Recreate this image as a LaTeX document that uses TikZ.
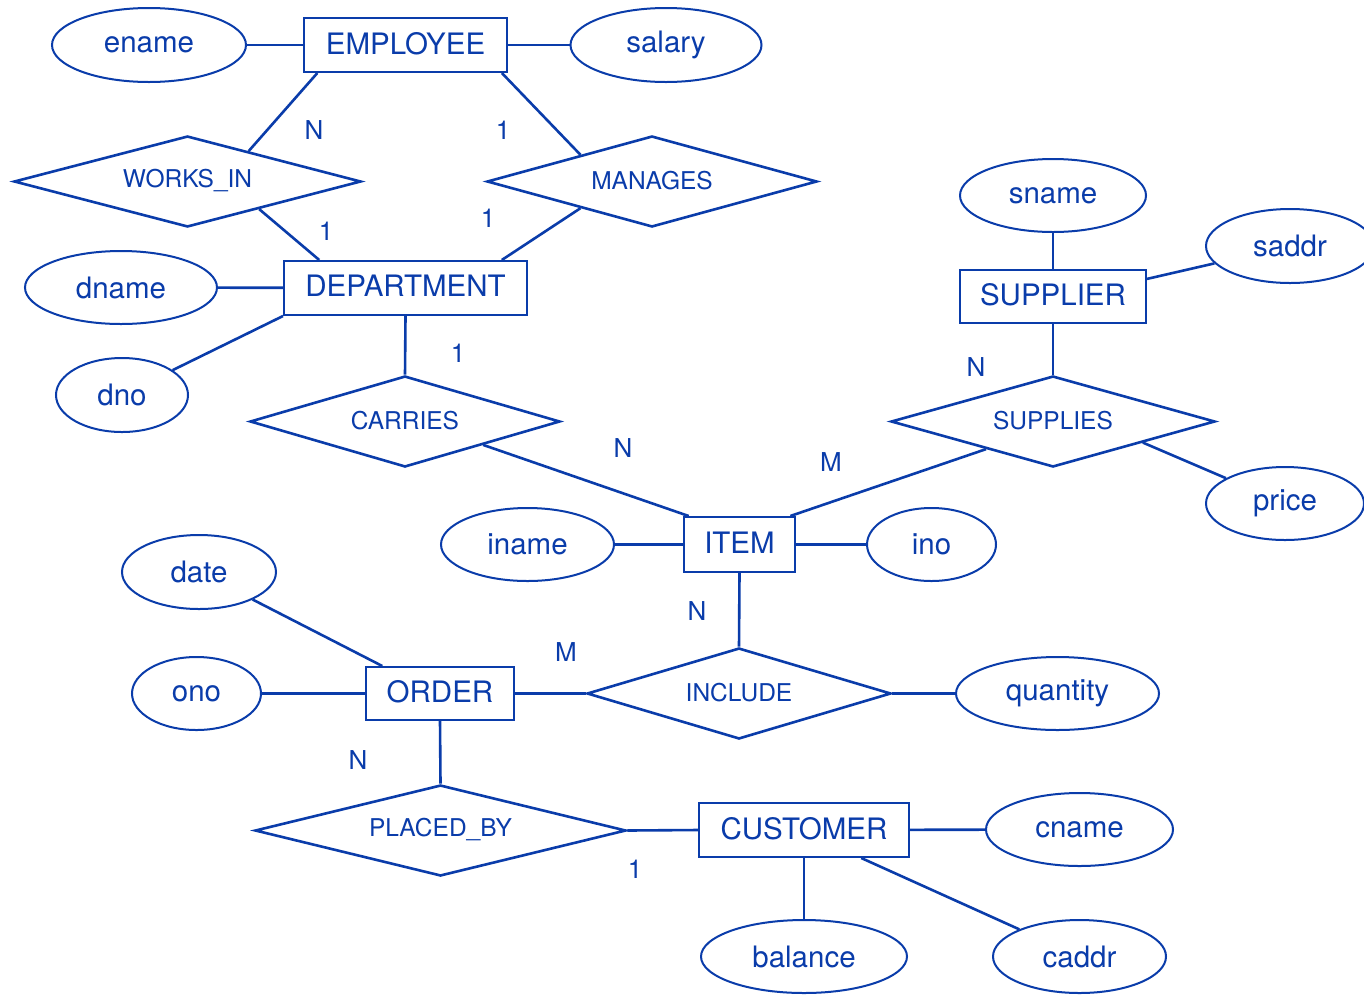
\documentclass[tikz,border=0pt]{standalone}
\usepackage{fontspec}
\setmainfont{TeX Gyre Heros}
\usetikzlibrary{shapes.geometric,calc}
\definecolor{erblue}{RGB}{10,60,170}
\begin{document}
\begin{tikzpicture}[x=1pt,y=-1pt,
  every node/.style={text=erblue},
  ent/.style={draw=erblue,line width=2pt,rectangle,inner sep=0pt,text depth=4pt,font=\fontsize{29.5}{29.5}\selectfont},
  attr/.style={draw=erblue,line width=2pt,ellipse,inner sep=0pt,font=\fontsize{29.5}{29.5}\selectfont},
  rel/.style={draw=erblue,line width=2.6pt,diamond,inner sep=0pt},
  rlab/.style={font=\fontsize{24.5}{24.5}\selectfont,text=erblue,yshift=1pt},
  card/.style={font=\fontsize{26}{26}\selectfont},
  conn/.style={draw=erblue,line width=2.6pt},
]
\useasboundingbox (0,0) rectangle (1364,994);
\fill[white] (0,0) rectangle (1364,994);

% entities
\node[ent,minimum width=203,minimum height=54] (emp) at (405.5,45) {EMPLOYEE};
\node[ent,minimum width=243,minimum height=54] (dep) at (405.5,288) {DEPARTMENT};
\node[ent,minimum width=186,minimum height=53] (sup) at (1053,296.5) {SUPPLIER};
\node[ent,minimum width=111,minimum height=55] (item) at (739.5,544.5) {ITEM};
\node[ent,minimum width=148,minimum height=53] (ord) at (440,693.5) {ORDER};
\node[ent,minimum width=210,minimum height=54] (cus) at (804,830) {CUSTOMER};

% attributes
\node[attr,minimum width=194,minimum height=74] (ename) at (149,45) {ename};
\node[attr,minimum width=191,minimum height=74] (salary) at (666,45) {salary};
\node[attr,minimum width=192,minimum height=73] (dname) at (121,287.5) {dname};
\node[attr,minimum width=132,minimum height=74] (dno) at (122,395) {dno};
\node[attr,minimum width=186,minimum height=73] (sname) at (1053,195.5) {sname};
\node[attr,minimum width=168,minimum height=74] (saddr) at (1290,246) {saddr};
\node[attr,minimum width=158,minimum height=73] (price) at (1285,503.5) {price};
\node[attr,minimum width=173,minimum height=73] (iname) at (527.5,544.5) {iname};
\node[attr,minimum width=129,minimum height=73] (ino) at (931.5,544.5) {ino};
\node[attr,minimum width=154,minimum height=74] (date) at (199,572) {date};
\node[attr,minimum width=129,minimum height=73] (ono) at (196.5,693.5) {ono};
\node[attr,minimum width=203,minimum height=73] (qty) at (1057.5,693.5) {quantity};
\node[attr,minimum width=187,minimum height=73] (cname) at (1079.5,829.5) {cname};
\node[attr,minimum width=206,minimum height=73] (bal) at (804,956.5) {balance};
\node[attr,minimum width=173,minimum height=73] (caddr) at (1079.5,956.5) {caddr};

% relationships
\node[rel,minimum width=347,minimum height=91,label={[rlab]center:WORKS\_IN}] (wi) at (187.5,181.5) {};
\node[rel,minimum width=330,minimum height=91,label={[rlab]center:MANAGES}] (man) at (652,181.5) {};
\node[rel,minimum width=310,minimum height=91,label={[rlab]center:CARRIES}] (car) at (405,421.5) {};
\node[rel,minimum width=324,minimum height=91,label={[rlab]center:SUPPLIES}] (sups) at (1053,421.5) {};
\node[rel,minimum width=304,minimum height=91,label={[rlab]center:INCLUDE}] (inc) at (739,693.5) {};
\node[rel,minimum width=371,minimum height=91,label={[rlab]center:PLACED\_BY}] (pb) at (440.5,830.5) {};

% connectors
\draw[conn] (ename) -- (emp);
\draw[conn] (emp) -- (salary);
\draw[conn] ($(emp.south west)!0.07!(emp.south east)$) -- ($(wi.north)!0.35!(wi.east)$);
\draw[conn] ($(emp.south west)!0.97!(emp.south east)$) -- ($(man.north)!0.43!(man.west)$);
\draw[conn] ($(wi.south)!0.41!(wi.east)$) -- ($(dep.north west)!0.148!(dep.north east)$);
\draw[conn] ($(man.south)!0.43!(man.west)$) -- ($(dep.north west)!0.893!(dep.north east)$);
\draw[conn] (dname) -- (dep);
\draw[conn] (dep.south west) -- (dno);
\draw[conn] (dep.south) -- (car.north);
\draw[conn] ($(car.south)!0.5!(car.east)$) -- ($(item.north west)!0.05!(item.north east)$);
\draw[conn] ($(sups.south)!0.41!(sups.west)$) -- ($(item.north west)!0.95!(item.north east)$);
\draw[conn] (sname) -- (sup);
\draw[conn] ($(sup.north east)!0.18!(sup.south east)$) -- (saddr);
\draw[conn] (sup.south) -- (sups.north);
\draw[conn] ($(sups.south)!0.55!(sups.east)$) -- (price);
\draw[conn] (iname) -- (item);
\draw[conn] (item) -- (ino);
\draw[conn] (item.south) -- (inc.north);
\draw[conn] ($(ord.north west)!0.115!(ord.north east)$) -- (date);
\draw[conn] (ono) -- (ord);
\draw[conn] (ord.east) -- (inc.west);
\draw[conn] (inc.east) -- (qty);
\draw[conn] (ord.south) -- (pb.north);
\draw[conn] (pb.east) -- (cus.west);
\draw[conn] (cus) -- (cname);
\draw[conn] (cus.south) -- (bal.north);
\draw[conn] ($(cus.south west)!0.77!(cus.south east)$) -- (caddr);

% cardinalities
\node[card] (c1) at (314,130) {N};
\node[card] (c2) at (503,130) {1};
\node[card] (c3) at (326,231) {1};
\node[card] (c4) at (488,218) {1};
\node[card] (c5) at (458,353) {1};
\node[card] (c6) at (623,448) {N};
\node[card] (c7) at (831,462) {M};
\node[card] (c8) at (976,367) {N};
\node[card] (c9) at (697,611) {N};
\node[card] (c10) at (566,652) {M};
\node[card] (c11) at (358,760) {N};
\node[card] (c12) at (635,869) {1};
\end{tikzpicture}
\end{document}
